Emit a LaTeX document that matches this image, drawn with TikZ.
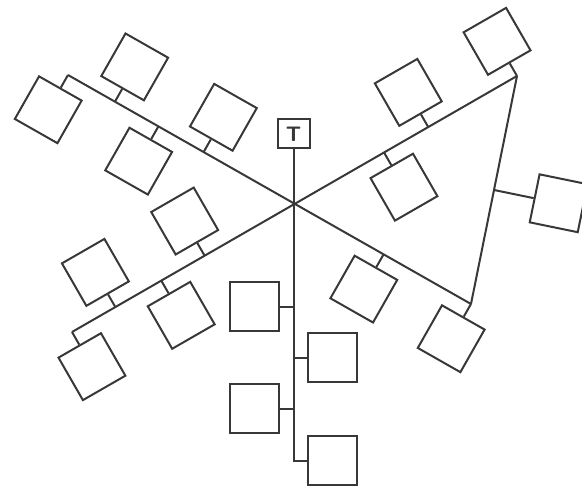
\documentclass[tikz,border=0pt]{standalone}
\usepackage{tikz}
\usetikzlibrary{calc,positioning}
\definecolor{wire}{HTML}{383838}

\begin{document}
\begin{tikzpicture}[x=1pt,y=1pt,line width=2pt,draw=wire,box/.style={draw=wire,minimum size=49pt,inner sep=0pt},tbox/.style={draw=wire,minimum width=32pt,minimum height=29pt,inner sep=0pt,text=wire,font=\sffamily\bfseries\fontsize{21}{21}\selectfont}]
\useasboundingbox (0,0) rectangle (582,490);
\coordinate (aL) at (68,415); \coordinate (aR) at (471,186);
\coordinate (bL) at (72,158); \coordinate (bR) at (517,414);
\draw (aL) -- (aR); \draw (bL) -- (bR); \draw (bR) -- (aR);
\foreach \d [count=\i] in {54,156} {\coordinate (pa\i) at ($(aL)!\d pt!(aR)$); \node[box,rotate=-29.6] (ua\i) at ($(pa\i)+(60.4:40)$) {}; \draw (pa\i) -- (ua\i.south);}
\foreach \d [count=\i] in {0,104,363,463.5} {\coordinate (qa\i) at ($(aL)!\d pt!(aR)$); \node[box,rotate=-29.6] (da\i) at ($(qa\i)+(-119.6:40)$) {}; \draw (qa\i) -- (da\i.north);}
\foreach \d [count=\i] in {50,153,411,513.4} {\coordinate (pb\i) at ($(bL)!\d pt!(bR)$); \node[box,rotate=29.9] (ub\i) at ($(pb\i)+(119.9:40)$) {}; \draw (pb\i) -- (ub\i.south);}
\foreach \d [count=\i] in {0,103,360} {\coordinate (qb\i) at ($(bL)!\d pt!(bR)$); \node[box,rotate=29.9] (db\i) at ($(qb\i)+(-60.1:40)$) {}; \draw (qb\i) -- (db\i.north);}
\coordinate (pr) at ($(bR)!0.5!(aR)$);
\node[box,rotate=-11.6] (sr) at ($(pr)+(-11.6:66)$) {}; \draw (pr) -- (sr.west);
\node[tbox] (tb) at (293.5,356) {T};
\foreach \i/\x/\y in {1/254.5/183,2/332.5/132,3/254.5/81,4/332.5/29} {\node[box] (q\i) at (\x,\y) {};}
\draw (tb.south) |- (q4.west);
\foreach \i/\s in {1/east,2/west,3/east} {\draw (q\i.\s) -- (q\i.\s -| tb.south);}
\end{tikzpicture}
\end{document}
